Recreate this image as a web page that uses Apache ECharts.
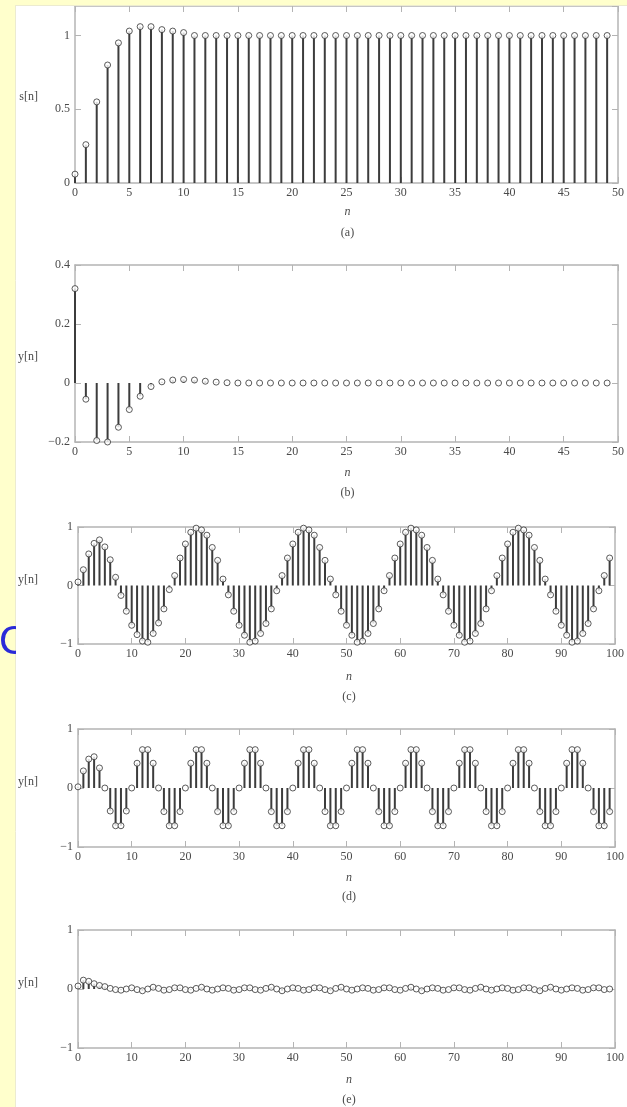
<!DOCTYPE html>
<html>
<head>
<meta charset="utf-8">
<script src="https://cdn.jsdelivr.net/npm/echarts@6/dist/echarts.min.js"></script>
<style>
html,body{margin:0;padding:0;background:#fff;}
#chart{width:627px;height:1107px;}
</style>
</head>
<body>
<div id="chart"></div>
<script>
// ---- data ----
var nA = []; for (var i = 0; i < 50; i++) nA.push(i);
var nC = []; for (var j = 0; j < 100; j++) nC.push(j);

var sA = [0.06,0.26,0.55,0.80,0.95,1.03,1.06,1.06,1.04,1.03,
          1.02,1.00,1.00,1.00,1.00,1.00,1.00,1.00,1.00,1.00,
          1.00,1.00,1.00,1.00,1.00,1.00,1.00,1.00,1.00,1.00,
          1.00,1.00,1.00,1.00,1.00,1.00,1.00,1.00,1.00,1.00,
          1.00,1.00,1.00,1.00,1.00,1.00,1.00,1.00,1.00,1.00];

var yB = [0.32,-0.055,-0.195,-0.2,-0.15,-0.09,-0.045,-0.012,0.004,0.01,
          0.012,0.01,0.006,0.003,0.001,0,0,0,0,0,
          0,0,0,0,0,0,0,0,0,0,
          0,0,0,0,0,0,0,0,0,0,
          0,0,0,0,0,0,0,0,0,0];

var yC = [0.06,0.27,0.54,0.72,0.78,0.66,0.44,0.14,-0.17,-0.44,
          -0.68,-0.84,-0.95,-0.97,-0.82,-0.64,-0.40,-0.07,0.17,0.47,
          0.71,0.91,0.98,0.95,0.86,0.65,0.43,0.11,-0.16,-0.44,
          -0.68,-0.85,-0.97,-0.95,-0.82,-0.65,-0.40,-0.09,0.17,0.47,
          0.71,0.91,0.98,0.95,0.86,0.65,0.43,0.11,-0.16,-0.44,
          -0.68,-0.85,-0.97,-0.95,-0.82,-0.65,-0.40,-0.09,0.17,0.47,
          0.71,0.91,0.98,0.95,0.86,0.65,0.43,0.11,-0.16,-0.44,
          -0.68,-0.85,-0.97,-0.95,-0.82,-0.65,-0.40,-0.09,0.17,0.47,
          0.71,0.91,0.98,0.95,0.86,0.65,0.43,0.11,-0.16,-0.44,
          -0.68,-0.85,-0.97,-0.95,-0.82,-0.65,-0.40,-0.09,0.17,0.47];

var yD = [0.02,0.29,0.49,0.53,0.34,0.0,-0.39,-0.64,-0.64,-0.39,
          0.0,0.42,0.65,0.65,0.42,0.0,-0.40,-0.64,-0.64,-0.40,
          0.0,0.42,0.65,0.65,0.42,0.0,-0.40,-0.64,-0.64,-0.40,
          0.0,0.42,0.65,0.65,0.42,0.0,-0.40,-0.64,-0.64,-0.40,
          0.0,0.42,0.65,0.65,0.42,0.0,-0.40,-0.64,-0.64,-0.40,
          0.0,0.42,0.65,0.65,0.42,0.0,-0.40,-0.64,-0.64,-0.40,
          0.0,0.42,0.65,0.65,0.42,0.0,-0.40,-0.64,-0.64,-0.40,
          0.0,0.42,0.65,0.65,0.42,0.0,-0.40,-0.64,-0.64,-0.40,
          0.0,0.42,0.65,0.65,0.42,0.0,-0.40,-0.64,-0.64,-0.40,
          0.0,0.42,0.65,0.65,0.42,0.0,-0.40,-0.64,-0.64,-0.40];

var yE = [0.05,0.15,0.13,0.09,0.06,0.04,0.01,-0.01,-0.02,0.0,
          0.02,-0.01,-0.03,0.0,0.03,0.01,-0.02,-0.01,0.02,0.02,
          -0.01,-0.02,0.01,0.03,0.0,-0.02,0.0,0.02,0.01,-0.02,
          -0.01,0.02,0.02,-0.01,-0.02,0.01,0.03,0.0,-0.03,0.0,
          0.02,0.01,-0.02,-0.01,0.02,0.02,-0.01,-0.03,0.01,0.03,
          0.0,-0.02,0.0,0.02,0.01,-0.02,-0.01,0.02,0.02,-0.01,
          -0.02,0.01,0.03,0.0,-0.03,0.0,0.02,0.01,-0.02,-0.01,
          0.02,0.02,-0.01,-0.02,0.01,0.03,0.0,-0.02,0.0,0.02,
          0.01,-0.02,-0.01,0.02,0.02,-0.01,-0.03,0.01,0.03,0.0,
          -0.02,0.0,0.02,0.01,-0.02,-0.01,0.02,0.02,-0.01,0.0];

var yLabels = ['s[n]','y[n]','y[n]','y[n]','y[n]'];
var captions = ['(a)','(b)','(c)','(d)','(e)'];

// ---- layout ----
var FONT = 'Liberation Serif';
var AX = '#b4b4b4';
var TXT = '#4a4a4a';
var STEM = '#3c3c3c';

var panels = [
  {n:nA, v:sA, grid:{left:75,right:7,top:6,height:177},  xmax:50,  xint:5,  ymin:0,    ymax:1.2, yint:0.5, nameY:212, capY:233, labY:97},
  {n:nA, v:yB, grid:{left:75,right:7,top:265,height:177}, xmax:50,  xint:5,  ymin:-0.2, ymax:0.4, yint:0.2, nameY:473, capY:493, labY:357},
  {n:nC, v:yC, grid:{left:78,right:7,top:527,height:117}, xmax:100, xint:10, ymin:-1,   ymax:1,   yint:1,   nameY:677, capY:697, labY:580},
  {n:nC, v:yD, grid:{left:78,right:7,top:729,height:118}, xmax:100, xint:10, ymin:-1,   ymax:1,   yint:1,   nameY:878, capY:897, labY:782},
  {n:nC, v:yE, grid:{left:78,right:7,top:930,height:118}, xmax:100, xint:10, ymin:-1,   ymax:1,   yint:1,   nameY:1080, capY:1100, labY:983}
];

var grids = [], xAxes = [], yAxes = [], series = [], graphics = [];

panels.forEach(function (p, k) {
  grids.push(p.grid);
  var tickStyle = {show:true, inside:true, length:6, lineStyle:{color:AX, width:1}};
  var lineStyle = {show:true, onZero:false, lineStyle:{color:AX, width:1.5}};
  xAxes.push({type:'value', gridIndex:k, position:'bottom', min:0, max:p.xmax, interval:p.xint,
    axisLine:lineStyle, axisTick:tickStyle, splitLine:{show:false},
    axisLabel:{color:TXT, fontFamily:FONT, fontSize:12, margin:4}});
  xAxes.push({type:'value', gridIndex:k, position:'top', min:0, max:p.xmax, interval:p.xint,
    axisLine:lineStyle, axisTick:tickStyle, splitLine:{show:false}, axisLabel:{show:false}});
  yAxes.push({type:'value', gridIndex:k, position:'left', min:p.ymin, max:p.ymax, interval:p.yint,
    axisLine:lineStyle, axisTick:tickStyle, splitLine:{show:false},
    axisLabel:{color:TXT, fontFamily:FONT, fontSize:12, margin:5, showMaxLabel: p.ymax === 1.2 ? false : true,
      formatter:function (v) { return v < 0 ? '\u2212' + Math.abs(v) : String(v); }}});
  yAxes.push({type:'value', gridIndex:k, position:'right', min:p.ymin, max:p.ymax, interval:p.yint,
    axisLine:lineStyle, axisTick:tickStyle, splitLine:{show:false}, axisLabel:{show:false}});

  var data = p.n.map(function (n, i) { return [n, p.v[i]]; });
  series.push({type:'bar', xAxisIndex:2*k, yAxisIndex:2*k, data:data, barWidth:2,
    itemStyle:{color:STEM}, silent:true, animation:false});
  series.push({type:'scatter', xAxisIndex:2*k, yAxisIndex:2*k, data:data, symbol:'circle', symbolSize:6,
    itemStyle:{color:'#ffffff', borderColor:'#333', borderWidth:1}, silent:true, animation:false, z:3});

  var cx = p.grid.left + (627 - p.grid.right - p.grid.left) / 2;
  graphics.push({type:'text', x:cx, y:p.nameY, z:50,
    style:{text:'n', fill:TXT, font:'italic 12px "' + FONT + '"', textAlign:'center', textVerticalAlign:'middle'}});
  graphics.push({type:'text', x:cx, y:p.capY, z:50,
    style:{text:captions[k], fill:TXT, font:'12px "' + FONT + '"', textAlign:'center', textVerticalAlign:'middle'}});
  graphics.push({type:'text', x:38, y:p.labY, z:50,
    style:{text:yLabels[k], fill:TXT, font:'12px "' + FONT + '"', textAlign:'right', textVerticalAlign:'middle'}});
});

// slide decoration: yellow margins, partial blue letter
graphics.push({type:'rect', shape:{x:0, y:0, width:15, height:1107}, z:100, style:{fill:'#FFFFCC'}});
graphics.push({type:'rect', shape:{x:0, y:0, width:627, height:5}, z:100, style:{fill:'#FFFFCC'}});
graphics.push({type:'line', shape:{x1:15.5, y1:5, x2:15.5, y2:1107}, z:101, style:{stroke:'#ecebd0', lineWidth:1}});
graphics.push({type:'line', shape:{x1:15, y1:5.5, x2:627, y2:5.5}, z:101, style:{stroke:'#ecebd0', lineWidth:1}});
graphics.push({type:'text', x:-1, y:643, z:102,
  style:{text:'C', fill:'#2a2ad8', font:'40px "Liberation Sans"', textAlign:'left', textVerticalAlign:'middle'}});
graphics.push({type:'rect', shape:{x:16, y:615, width:34, height:56}, z:103, style:{fill:'#ffffff'}});

var chart = echarts.init(document.getElementById('chart'), null, {renderer:'canvas'});
chart.setOption({
  backgroundColor:'#ffffff',
  animation:false,
  grid:grids,
  xAxis:xAxes,
  yAxis:yAxes,
  series:series,
  graphic:{elements:graphics}
});
</script>
</body>
</html>
